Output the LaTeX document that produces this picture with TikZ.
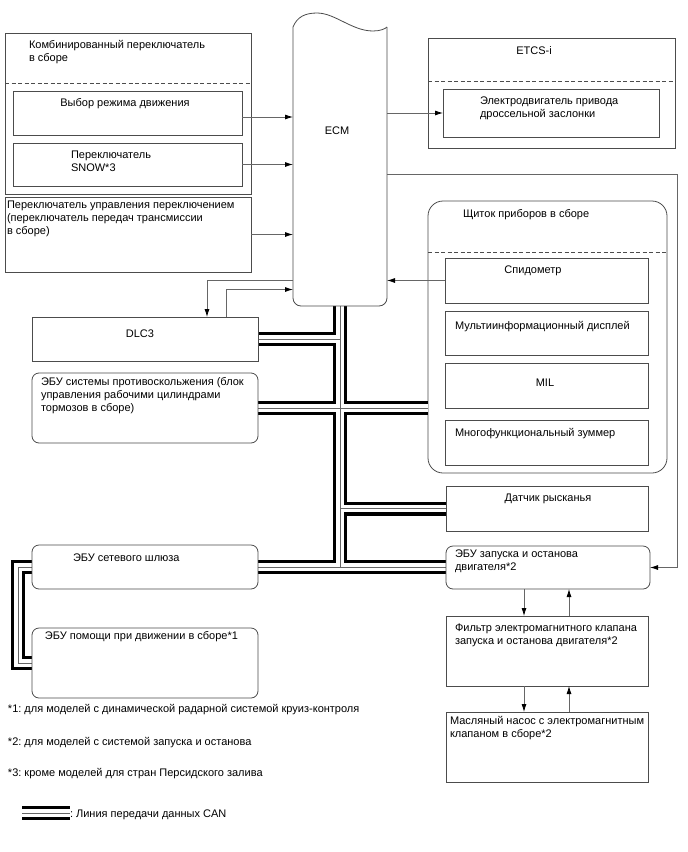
\documentclass[tikz,border=0pt]{standalone}
\usepackage{fontspec}
\setmainfont{Liberation Sans}
\usetikzlibrary{arrows.meta,calc}
\newcommand\fs{\fontsize{11}{13}\selectfont\frenchspacing}
\begin{document}
\begin{tikzpicture}[x=1pt,y=-1pt,
  box/.style={draw=black!70,line width=0.8pt,inner sep=0pt,outer sep=0pt,anchor=north west},
  rbox/.style={box,rounded corners=7pt},
  dashsep/.style={draw=black!70,line width=0.8pt,dash pattern=on 4pt off 2.5pt},
  txt/.style={inner sep=0pt,outer sep=0pt,align=left,font=\fs,anchor=base west},
  ctxt/.style={txt,anchor=base},
  arr/.style={draw=black!60,line width=0.8pt,-{Latex[length=8pt,width=5pt,color=black]}},
  busA/.style={line width=14pt,black},
  busB/.style={line width=7.5pt,white},
  busC/.style={line width=0.9pt,black!60}
]
\useasboundingbox[fill=white] (0,0) rectangle (688,852);

% ---- box nodes ----
\node[box,minimum width=246pt,minimum height=161pt] (comb) at (5,33) {};
\node[box,minimum width=229pt,minimum height=44pt] (mode) at (13,91) {};
\node[box,minimum width=229pt,minimum height=43pt] (snow) at (13,143) {};
\node[box,minimum width=246pt,minimum height=75pt] (shift) at (5,197) {};
\node[inner sep=0pt,outer sep=0pt,anchor=north west,minimum width=94pt,minimum height=279pt] (ecm) at (293,27) {};
\node[box,minimum width=247pt,minimum height=110pt] (etcs) at (428,38) {};
\node[box,minimum width=216pt,minimum height=48pt] (thr) at (443,89) {};
\node[box,rounded corners=15pt,minimum width=239pt,minimum height=272pt] (cluster) at (428,201) {};
\node[box,minimum width=203pt,minimum height=45pt] (speedo) at (445,258) {};
\node[box,minimum width=203pt,minimum height=44pt] (mfd) at (445,311) {};
\node[box,minimum width=203pt,minimum height=45pt] (mil) at (445,363) {};
\node[box,minimum width=203pt,minimum height=45pt] (buzz) at (445,420) {};
\node[inner sep=0pt,outer sep=0pt,anchor=north west,minimum width=226pt,minimum height=44pt] (dlc) at (32,317) {};
\node[inner sep=0pt,outer sep=0pt,anchor=north west,minimum width=226pt,minimum height=70pt] (abs) at (32,373) {};
\node[inner sep=0pt,outer sep=0pt,anchor=north west,minimum width=226pt,minimum height=44pt] (gw) at (32,545) {};
\node[inner sep=0pt,outer sep=0pt,anchor=north west,minimum width=226pt,minimum height=70pt] (dsa) at (32,628) {};
\node[inner sep=0pt,outer sep=0pt,anchor=north west,minimum width=202pt,minimum height=45pt] (yaw) at (446,486) {};
\node[inner sep=0pt,outer sep=0pt,anchor=north west,minimum width=204pt,minimum height=43pt] (start) at (446,546) {};
\node[box,minimum width=202pt,minimum height=70pt] (filt) at (446,616) {};
\node[box,minimum width=202pt,minimum height=70pt] (pump) at (446,712) {};

% ---- CAN bus ----
\coordinate (tt) at (ecm.south);
\coordinate (tb) at (ecm.south |- gw.east);
\coordinate (la) at (22,813);
\coordinate (lb) at (70,813);
\foreach \st in {busA,busB,busC}{
  \draw[\st] (tt) -- (tb)
    (dlc.east) -- (dlc.east -| tt)
    (abs.east) -- (abs.east -| cluster.west)
    (tt |- yaw.west) -- (yaw.west)
    (gw.east) -- (gw.east -| start.west)
    (gw.west) -- ++(-14,0) |- (dsa.west)
    (la) -- (lb);
}

% ---- outlines drawn over the bus ----
\draw[draw=black!70,line width=0.8pt] (dlc.north west) rectangle (dlc.south east);
\draw[draw=black!70,line width=0.8pt,rounded corners=7pt] (abs.north west) rectangle (abs.south east);
\draw[draw=black!70,line width=0.8pt,rounded corners=7pt] (gw.north west) rectangle (gw.south east);
\draw[draw=black!70,line width=0.8pt,rounded corners=7pt] (dsa.north west) rectangle (dsa.south east);
\draw[draw=black!70,line width=0.8pt] (yaw.north west) rectangle (yaw.south east);
\draw[draw=black!70,line width=0.8pt,rounded corners=7pt] (start.north west) rectangle (start.south east);
\draw[draw=black!70,line width=0.8pt,rounded corners=8pt] (ecm.north east) -- (ecm.south east) -- (ecm.south west) -- (ecm.north west);
\draw[draw=black!70,line width=0.8pt] (ecm.north west) .. controls (297,17) and (305,13) .. (317,13)
  .. controls (335,13) and (352,31) .. (373,31) .. controls (380,31) and (385,29) .. (ecm.north east);

% ---- dashed separators ----
\draw[dashsep] ($(comb.north west)+(0,50)$) -- ($(comb.north east)+(0,50)$);
\draw[dashsep] ($(etcs.north west)+(0,43)$) -- ($(etcs.north east)+(0,43)$);
\draw[dashsep] ($(cluster.north west)+(0,51)$) -- ($(cluster.north east)+(0,51)$);

% ---- texts (base = baseline of last line) ----
\node[txt] (tcomb) at (29,61) {Комбинированный переключатель\\в сборе};
\node[ctxt] (tmode) at (125,106) {Выбор режима движения};
\node[txt] (tsnow) at (71,171) {Переключатель\\SNOW*3};
\node[txt] (tshift) at (7,234) {Переключатель управления переключением\\(переключатель передач трансмиссии\\в сборе)};
\node[ctxt] (tecm) at (337,134) {ECM};
\node[ctxt] (tetcs) at (534,54) {ETCS-i};
\node[txt] (tthr) at (480,117) {Электродвигатель привода\\дроссельной заслонки};
\node[txt] (tcl) at (463,217) {Щиток приборов в сборе};
\node[ctxt] (tsp) at (533,273) {Спидометр};
\node[txt] (tmfd) at (455,329) {Мультиинформационный дисплей};
\node[ctxt] (tmil) at (545,386) {MIL};
\node[txt] (tbuzz) at (455,436) {Многофункциональный зуммер};
\node[ctxt] (tdlc) at (140,337) {DLC3};
\node[txt] (tabs) at (41,411) {ЭБУ системы противоскольжения (блок\\управления рабочими цилиндрами\\тормозов в сборе)};
\node[txt] (tgw) at (73,561) {ЭБУ сетевого шлюза};
\node[txt] (tdsa) at (45,639) {ЭБУ помощи при движении в сборе*1};
\node[ctxt] (tyaw) at (548,501) {Датчик рысканья};
\node[txt] (tstart) at (455,570) {ЭБУ запуска и останова\\двигателя*2};
\node[txt] (tfilt) at (455,644) {Фильтр электромагнитного клапана\\запуска и останова двигателя*2};
\node[txt] (tpump) at (450,737) {Масляный насос с электромагнитным\\клапаном в сборе*2};
\node[txt] (n1) at (8,712) {*1: для моделей с динамической радарной системой круиз-контроля};
\node[txt] (n2) at (8,745) {*2: для моделей с системой запуска и останова};
\node[txt] (n3) at (8,776) {*3: кроме моделей для стран Персидского залива};
\node[txt] (lt) at (70,817) {: Линия передачи данных CAN};

% ---- connectors ----
\draw[arr] ([yshift=-4pt]mode.east) -- ([yshift=-4pt]mode.east -| ecm.west);
\draw[arr] (snow.east) -- (snow.east -| ecm.west);
\draw[arr] (shift.east) -- (shift.east -| ecm.west);
\draw[arr] (thr.west -| ecm.east) -- (thr.west);
\draw[arr] ([yshift=-7.5pt]ecm.east) -| ($(start.east)+(27,0)$) -- (start.east);
\draw[arr] (speedo.west) -- (speedo.west -| ecm.east);
\draw[arr] (speedo.west -| ecm.west) -| ($(dlc.north)+(62,0)$);
\coordinate (din) at ($(speedo.west -| ecm.west)+(0,9)$);
\draw[arr] ($(dlc.north)+(81,0)$) |- (din);
\coordinate (s1) at ($(start.south)+(-24,0)$);
\coordinate (s2) at ($(filt.north)+(22,0)$);
\coordinate (f1) at ($(filt.south)+(-23,0)$);
\coordinate (f2) at ($(pump.north)+(22,0)$);
\draw[arr] (s1) -- (s1 |- filt.north);
\draw[arr] (s2) -- (s2 |- start.south);
\draw[arr] (f1) -- (f1 |- pump.north);
\draw[arr] (f2) -- (f2 |- filt.south);
\end{tikzpicture}
\end{document}
